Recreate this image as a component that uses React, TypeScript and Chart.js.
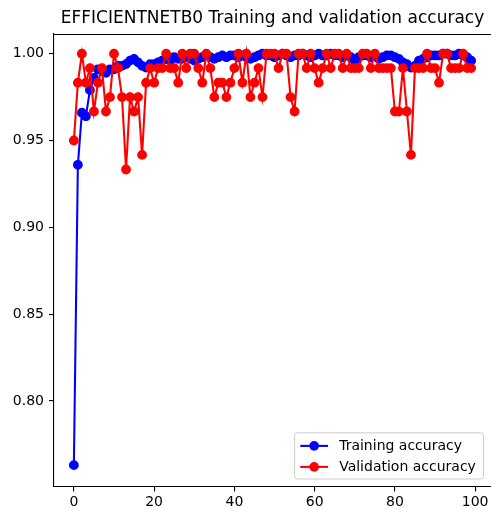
import React, { useEffect, useRef } from "react";
import { Chart, registerables } from "chart.js";

Chart.register(...registerables);

const titleText = "EFFICIENTNETB0 Training and validation accuracy";
const trainLabel = "Training accuracy";
const valLabel = "Validation accuracy";

const xTicks = [0, 20, 40, 60, 80, 100];
const yTicks = [0.8, 0.85, 0.9, 0.95, 1.0];

const trainAcc = [
  0.763, 0.936, 0.966, 0.964, 0.979, 0.986, 0.991, 0.99, 0.989, 0.991,
  0.991, 0.993, 0.993, 0.994, 0.996, 0.997, 0.995, 0.993, 0.992, 0.994,
  0.994, 0.995, 0.996, 0.997, 0.996, 0.998, 0.997, 0.997, 0.998, 0.997,
  0.996, 0.997, 0.998, 0.999, 0.998, 0.997, 0.998, 0.999, 0.998, 0.999,
  0.999, 0.998, 0.999, 0.998, 0.997, 0.998, 0.999, 1.0, 0.999, 0.999,
  0.998, 0.999, 1.0, 0.999, 0.998, 0.999, 0.999, 1.0, 0.999, 0.998,
  0.999, 1.0, 0.999, 0.999, 1.0, 0.999, 0.999, 0.998, 0.999, 0.998,
  0.996, 0.998, 0.999, 0.999, 0.998, 0.999, 0.997, 0.998, 0.999, 0.999,
  0.998, 0.997, 0.995, 0.994, 0.992, 0.993, 0.996, 0.997, 0.998, 0.999,
  0.999, 0.999, 1.0, 1.0, 0.999, 0.999, 1.0, 0.999, 0.998, 0.996,
];

const valAcc = [
  0.95, 0.9833, 1.0, 0.9833, 0.9917, 0.9667, 0.9833, 0.9917, 0.9667, 0.975,
  1.0, 0.9917, 0.975, 0.9333, 0.975, 0.9667, 0.975, 0.9417, 0.9833, 0.9917,
  0.9833, 0.9917, 0.9917, 1.0, 0.9917, 0.9917, 0.9833, 1.0, 0.9917, 1.0,
  1.0, 0.9917, 0.9833, 1.0, 0.9917, 0.975, 0.9833, 0.9833, 0.975, 0.9833,
  0.9917, 1.0, 0.9833, 1.0, 0.975, 0.9833, 0.9917, 0.975, 1.0, 1.0,
  1.0, 0.9917, 1.0, 1.0, 0.975, 0.9667, 1.0, 1.0, 0.9917, 1.0,
  0.9917, 0.9833, 0.9917, 1.0, 0.9917, 1.0, 1.0, 0.9917, 1.0, 0.9917,
  0.9917, 0.9917, 1.0, 1.0, 0.9917, 1.0, 0.9917, 0.9917, 0.9917, 0.9917,
  0.9667, 0.9667, 0.9917, 0.9667, 0.9417, 0.9917, 0.9917, 0.9917, 1.0, 0.9917,
  0.9917, 0.9833, 1.0, 1.0, 0.9917, 0.9917, 0.9917, 1.0, 0.9917, 0.9917,
];

const FONT = "DejaVu Sans";
const TICK_FS = 14;

const frameAndLegend = {
  id: "frameAndLegend",
  afterDraw(chart: any) {
    const ctx = chart.ctx;
    const a = chart.chartArea;
    ctx.save();
    // top spine (right spine falls outside the visible frame in the reference)
    ctx.strokeStyle = "#000";
    ctx.lineWidth = 1.1;
    ctx.beginPath();
    ctx.moveTo(Math.round(a.left), Math.round(a.top) + 0.5);
    ctx.lineTo(a.right + 2, Math.round(a.top) + 0.5);
    ctx.stroke();

    const fs = TICK_FS;
    const pad = 5.6;
    const handleLen = 27.8;
    const handleGap = 11.1;
    const spacing = 7;
    ctx.font = `${fs}px "${FONT}"`;
    const ds = chart.data.datasets;
    let maxW = 0;
    ds.forEach((d: any) => { maxW = Math.max(maxW, ctx.measureText(d.label).width); });
    const w = pad * 2 + handleLen + handleGap + maxW + 2;
    const h = pad * 2 + fs * ds.length + spacing * (ds.length - 1);
    const right = a.right - 7.5;
    const bottom = a.bottom - 7.5;
    const left = right - w;
    const top = bottom - h;
    ctx.beginPath();
    const r = 3;
    ctx.moveTo(left + r, top);
    ctx.lineTo(right - r, top);
    ctx.quadraticCurveTo(right, top, right, top + r);
    ctx.lineTo(right, bottom - r);
    ctx.quadraticCurveTo(right, bottom, right - r, bottom);
    ctx.lineTo(left + r, bottom);
    ctx.quadraticCurveTo(left, bottom, left, bottom - r);
    ctx.lineTo(left, top + r);
    ctx.quadraticCurveTo(left, top, left + r, top);
    ctx.closePath();
    ctx.fillStyle = "rgba(255,255,255,0.8)";
    ctx.fill();
    ctx.strokeStyle = "#cccccc";
    ctx.lineWidth = 1;
    ctx.stroke();

    ds.forEach((d: any, i: number) => {
      const cy = top + pad + fs / 2 + i * (fs + spacing) + 0.5;
      const hx = left + pad;
      ctx.strokeStyle = d.borderColor;
      ctx.lineWidth = 2.08;
      ctx.beginPath();
      ctx.moveTo(hx, cy);
      ctx.lineTo(hx + handleLen, cy);
      ctx.stroke();
      ctx.fillStyle = d.pointBackgroundColor;
      ctx.beginPath();
      ctx.arc(hx + handleLen / 2, cy, 4.8, 0, Math.PI * 2);
      ctx.fill();
      ctx.fillStyle = "#000";
      ctx.textBaseline = "middle";
      ctx.textAlign = "left";
      ctx.fillText(d.label, hx + handleLen + handleGap, cy);
    });
    ctx.restore();
  },
};

export default function App() {
  const ref = useRef<HTMLCanvasElement | null>(null);

  useEffect(() => {
    if (!ref.current) return;
    const mk = (vals: number[]) => vals.map((v, i) => ({ x: i, y: v }));
    const chart = new Chart(ref.current, {
      type: "line",
      data: {
        datasets: [
          {
            label: trainLabel,
            data: mk(trainAcc),
            borderColor: "#0000ff",
            backgroundColor: "#0000ff",
            pointBackgroundColor: "#0000ff",
            pointBorderColor: "#0000ff",
            pointRadius: 4.2,
            pointBorderWidth: 1.4,
            borderWidth: 2.08,
            tension: 0,
            order: 1,
          },
          {
            label: valLabel,
            data: mk(valAcc),
            borderColor: "#ff0000",
            backgroundColor: "#ff0000",
            pointBackgroundColor: "#ff0000",
            pointBorderColor: "#ff0000",
            pointRadius: 4.2,
            pointBorderWidth: 1.4,
            borderWidth: 2.08,
            tension: 0,
            order: 0,
          },
        ],
      },
      options: {
        responsive: false,
        animation: false,
        devicePixelRatio: 1,
        layout: { autoPadding: false, padding: { left: 0, right: -1, top: 0, bottom: 0 } },
        plugins: {
          legend: { display: false },
          tooltip: { enabled: false },
          title: {
            display: true,
            text: titleText,
            fullSize: false,
            color: "#000",
            font: { family: FONT, size: 17, weight: "normal" },
            padding: { top: 8.5, bottom: 5 },
          },
        },
        scales: {
          x: {
            type: "linear",
            min: -4.95,
            max: 103.95,
            afterBuildTicks: (axis: any) => {
              axis.ticks = xTicks.map((v) => ({ value: v }));
            },
            afterFit: (scale: any) => {
              scale.height = 22.5;
              scale.paddingLeft = 0;
              scale.paddingRight = 0;
            },
            grid: { display: true, drawOnChartArea: false, drawTicks: true, tickLength: 5, color: "#000", lineWidth: 1.1 },
            border: { display: true, color: "#000", width: 1.1 },
            ticks: {
              color: "#000",
              font: { family: FONT, size: TICK_FS },
              padding: 2,
              maxRotation: 0,
              autoSkip: false,
              callback: (v: any) => String(v),
            },
          },
          y: {
            type: "linear",
            min: 0.7507,
            max: 1.0114,
            afterBuildTicks: (axis: any) => {
              axis.ticks = yTicks.map((v) => ({ value: v }));
            },
            afterFit: (scale: any) => {
              scale.width = 54;
              scale.paddingTop = 0;
              scale.paddingBottom = 0;
            },
            grid: { display: true, drawOnChartArea: false, drawTicks: true, tickLength: 5, color: "#000", lineWidth: 1.1 },
            border: { display: true, color: "#000", width: 1.1 },
            ticks: {
              color: "#000",
              font: { family: FONT, size: TICK_FS },
              padding: 5,
              autoSkip: false,
              callback: (v: any) => Number(v).toFixed(2),
            },
          },
        },
      },
      plugins: [frameAndLegend],
    } as any);
    return () => chart.destroy();
  }, []);

  return (
    <div style={{ position: "absolute", left: 0, top: 0, width: 491, height: 509, background: "#fff" }}>
      <canvas ref={ref} width={491} height={509} style={{ display: "block", width: 491, height: 509 }} />
    </div>
  );
}
